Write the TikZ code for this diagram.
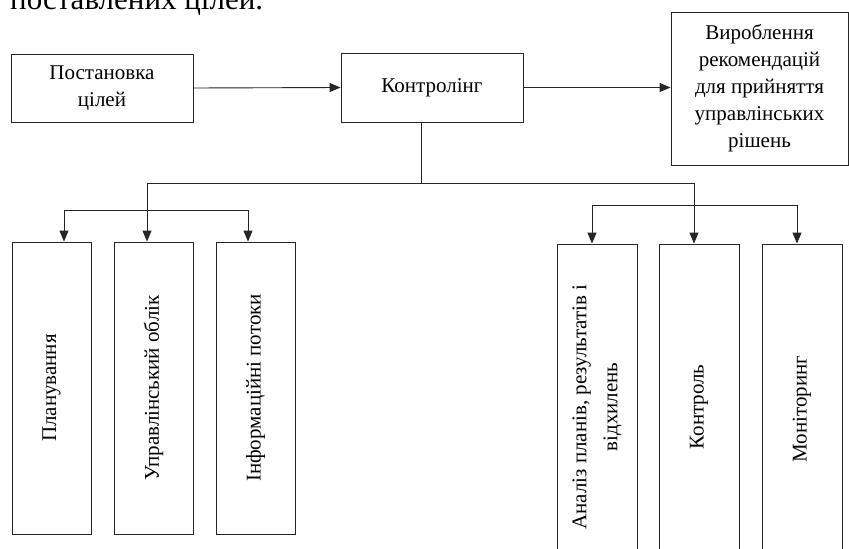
\documentclass[tikz,border=0pt]{standalone}
\usepackage{fontspec}
\setmainfont{Liberation Serif}
\usetikzlibrary{arrows.meta}
\begin{document}
\begin{tikzpicture}[x=1pt,y=-1pt,
  box/.style={draw=black!85,line width=0.9pt,inner sep=0pt,align=center,
    font=\fontsize{21}{27}\selectfont},
  vtext/.style={rotate=90,inner sep=0pt,align=center,font=\fontsize{21}{31}\selectfont},
  conn/.style={draw=black!85,line width=0.9pt},
  arr/.style={conn,-{Triangle[length=11pt,width=9pt]}}]
\useasboundingbox (0,0) rectangle (849,549);
\clip (0,0) rectangle (849,549);
\fill[white] (0,0) rectangle (849,549);
\node[anchor=base west,inner sep=0pt,font=\fontsize{31}{36}\selectfont] (cap) at (10,9) {поставлених цілей.};
\node[box,minimum width=182pt,minimum height=68pt] (post) at (102,88) {Постановка\\цілей};
\node[box,minimum width=182pt,minimum height=69pt] (kontr) at (432,87.5) {Контролінг};
\node[box,minimum width=177pt,minimum height=153pt] (vyr) at (759.5,88.5) {Вироблення\\рекомендацій\\для прийняття\\управлінських\\рішень};
\draw[arr] (post.east) -- (kontr.west);
\draw[arr] (kontr.east) -- (kontr.east -| vyr.west);
% left boxes
\node[box,minimum width=79pt,minimum height=292pt] (p1) at (51.5,388) {};
\node[box,minimum width=79pt,minimum height=292pt] (p2) at (153.5,388) {};
\node[box,minimum width=79pt,minimum height=292pt] (p3) at (255.5,388) {};
\node[vtext] (t1) at (p1.center) {Планування};
\node[vtext] (t2) at (p2.center) {Управлінський облік};
\node[vtext] (t3) at (p3.center) {Інформаційні потоки};
% right boxes
\node[box,minimum width=80pt,minimum height=316pt] (q1) at (597,402) {};
\node[box,minimum width=80pt,minimum height=316pt] (q2) at (699,402) {};
\node[box,minimum width=80pt,minimum height=316pt] (q3) at (802,402) {};
\node[vtext] (u1) at ([yshift=-5pt]q1.center) {Аналіз планів, результатів і\\відхилень};
\node[vtext] (u2) at ([yshift=-5pt]q2.center) {Контроль};
\node[vtext] (u3) at ([yshift=-7pt]q3.center) {Моніторинг};
% connectors
\coordinate (bus) at (421,183);
\coordinate (busL) at (147,183);
\coordinate (busR) at (694,183);
\draw[conn] (kontr.south -| bus) -- (bus);
\draw[conn] (busL) -- (busR);
\draw[arr] (busL) -- (busL |- p2.north);
\coordinate (l1) at (64,210);
\coordinate (l3) at (248,210);
\draw[conn] (l1) -- (l3);
\draw[arr] (l1) -- (l1 |- p1.north);
\draw[arr] (l3) -- (l3 |- p3.north);
\draw[arr] (busR) -- (busR |- q2.north);
\coordinate (r1) at (592,205);
\coordinate (r3) at (797,205);
\draw[conn] (r1) -- (r3);
\draw[arr] (r1) -- (r1 |- q1.north);
\draw[arr] (r3) -- (r3 |- q3.north);
\end{tikzpicture}
\end{document}
